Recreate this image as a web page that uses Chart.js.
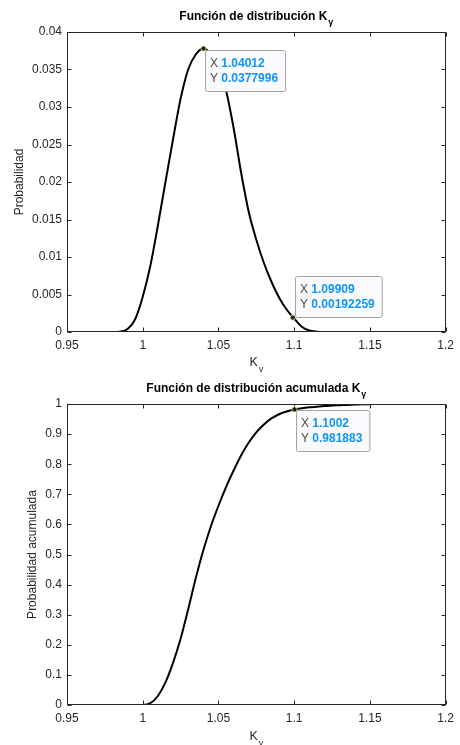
<!DOCTYPE html>
<html>
<head>
<meta charset="utf-8">
<script src="https://cdn.jsdelivr.net/npm/chart.js@4.4.0/dist/chart.umd.min.js"></script>
<style>
  body { margin: 0; background: #fff; }
  .panel { position: absolute; left: 0; width: 460px; }
  #top { top: 0; height: 372px; }
  #bottom { top: 372px; height: 373px; }
</style>
</head>
<body>
<div class="panel" id="top"><canvas id="pdfChart"></canvas></div>
<div class="panel" id="bottom"><canvas id="cdfChart"></canvas></div>
<script>
// Values
const kValues = [0.95, 0.955, 0.96, 0.965, 0.97, 0.975, 0.98, 0.985, 0.99, 0.995,
  1.0, 1.005, 1.01, 1.015, 1.02, 1.025, 1.03, 1.035, 1.04, 1.045,
  1.05, 1.055, 1.06, 1.065, 1.07, 1.075, 1.08, 1.085, 1.09, 1.095,
  1.1, 1.105, 1.11, 1.115, 1.12, 1.125, 1.13, 1.135, 1.14, 1.145,
  1.15, 1.155, 1.16, 1.165, 1.17, 1.175, 1.18, 1.185, 1.19, 1.195, 1.2];

const pdfValues = [0, 0, 0, 0, 0, 0, 0, 0.00005, 0.0004, 0.0017,
  0.0047, 0.0088, 0.0142, 0.0200, 0.0257, 0.0311, 0.0350, 0.0370, 0.0378, 0.0371,
  0.0352, 0.0322, 0.0272, 0.0212, 0.0160, 0.0123, 0.0092, 0.0067, 0.0046, 0.0030,
  0.0018, 0.0007, 0.0002, 0.00005, 0, 0, 0, 0, 0, 0,
  0, 0, 0, 0, 0, 0, 0, 0, 0, 0, 0];

const cdfValues = [0, 0, 0, 0, 0, 0, 0, 0, 0, 0,
  0, 0.006, 0.03, 0.075, 0.14, 0.22, 0.318, 0.421, 0.514, 0.594,
  0.662, 0.724, 0.779, 0.830, 0.872, 0.906, 0.932, 0.952, 0.966, 0.975,
  0.982, 0.986, 0.989, 0.991, 0.993, 0.995, 0.996, 0.997, 0.998, 0.999,
  0.9995, 1, 1, 1, 1, 1, 1, 1, 1, 1, 1];

const xTicks = [0.95, 1, 1.05, 1.1, 1.15, 1.2];
const xTickLabels = ["0.95", "1", "1.05", "1.1", "1.15", "1.2"];
const pdfTicks = [0, 0.005, 0.01, 0.015, 0.02, 0.025, 0.03, 0.035, 0.04];
const pdfTickLabels = ["0", "0.005", "0.01", "0.015", "0.02", "0.025", "0.03", "0.035", "0.04"];
const cdfTicks = [0, 0.1, 0.2, 0.3, 0.4, 0.5, 0.6, 0.7, 0.8, 0.9, 1];
const cdfTickLabels = ["0", "0.1", "0.2", "0.3", "0.4", "0.5", "0.6", "0.7", "0.8", "0.9", "1"];

// data tips shown on the curves
const pdfTipX = ["1.04012", "1.09909"];
const pdfTipY = ["0.0377996", "0.00192259"];
const cdfTipX = ["1.1002"];
const cdfTipY = ["0.981883"];

const FONT = "'Liberation Sans', Arial, Helvetica, sans-serif";

// MATLAB-like box, inside ticks, titles, labels and data tips
const matlabAxes = {
  id: "matlabAxes",
  afterDatasetsDraw(chart, args, opts) {
    const { ctx, chartArea: a, scales } = chart;
    const L = Math.round(a.left) + 0.5, R = Math.round(a.right) - 0.5;
    const T = Math.round(a.top) + 0.5, B = Math.round(a.bottom) - 0.5;
    ctx.save();
    ctx.strokeStyle = "#262626";
    ctx.lineWidth = 1;
    ctx.strokeRect(L, T, R - L, B - T);
    ctx.beginPath();
    xTicks.forEach(v => {
      const px = Math.round(scales.x.getPixelForValue(v)) + 0.5;
      ctx.moveTo(px, B); ctx.lineTo(px, B - 4);
      ctx.moveTo(px, T); ctx.lineTo(px, T + 4);
    });
    opts.yTicks.forEach(v => {
      const py = Math.round(scales.y.getPixelForValue(v)) + 0.5;
      ctx.moveTo(L, py); ctx.lineTo(L + 4, py);
      ctx.moveTo(R, py); ctx.lineTo(R - 4, py);
    });
    ctx.stroke();
    ctx.restore();
  },
  afterDraw(chart, args, opts) {
    const { ctx, chartArea: a, scales } = chart;
    const cx = (a.left + a.right) / 2;
    ctx.save();
    ctx.fillStyle = "#000";
    ctx.textBaseline = "alphabetic";

    // title with subscript gamma
    ctx.font = "bold 12px " + FONT;
    const tw = ctx.measureText(opts.title).width;
    ctx.font = "bold 9px " + FONT;
    const gw = ctx.measureText("γ").width;
    let x0 = cx - (tw + gw + 1) / 2;
    ctx.textAlign = "left";
    ctx.font = "bold 12px " + FONT;
    ctx.fillText(opts.title, x0, 20);
    ctx.font = "bold 9px " + FONT;
    ctx.fillText("γ", x0 + tw + 1, 25);

    // x label K with subscript gamma
    ctx.fillStyle = "#262626";
    ctx.font = "12.5px " + FONT;
    const kw = ctx.measureText("K").width;
    ctx.font = "9px " + FONT;
    const gw2 = ctx.measureText("γ").width;
    x0 = cx - (kw + gw2 + 1) / 2;
    ctx.font = "12.5px " + FONT;
    ctx.fillText("K", x0, opts.xLabelY);
    ctx.font = "9px " + FONT;
    ctx.fillText("γ", x0 + kw + 1, opts.xLabelY + 6);

    // y label
    ctx.save();
    ctx.translate(opts.yLabelX, (a.top + a.bottom) / 2);
    ctx.rotate(-Math.PI / 2);
    ctx.textAlign = "center";
    ctx.textBaseline = "middle";
    ctx.font = "12px " + FONT;
    ctx.fillText(opts.yLabel, 0, 0);
    ctx.restore();

    // data tips
    opts.tipX.forEach((xs, i) => {
      const ys = opts.tipY[i];
      const mx = scales.x.getPixelForValue(parseFloat(xs));
      const my = scales.y.getPixelForValue(parseFloat(ys));
      ctx.font = "12px " + FONT;
      const lx = ctx.measureText("X ").width;
      const ly = ctx.measureText("Y ").width;
      ctx.font = "bold 12px " + FONT;
      const w = Math.max(lx + ctx.measureText(xs).width, ly + ctx.measureText(ys).width) + 12;
      const h = 41;
      const left = Math.round(mx) + 2;
      const top = opts.tipPlace[i] === "below" ? Math.round(my) + 1 : Math.round(my) - h - 1;
      ctx.fillStyle = "#f9f9fe";
      ctx.strokeStyle = "#a3a3a3";
      ctx.lineWidth = 1;
      ctx.beginPath();
      ctx.roundRect(left + 0.5, top + 0.5, w, h, 2);
      ctx.fill();
      ctx.stroke();
      ctx.textAlign = "left";
      ctx.textBaseline = "middle";
      [["X ", xs, 14], ["Y ", ys, 29]].forEach(([lab, val, dy]) => {
        ctx.font = "12px " + FONT;
        ctx.fillStyle = "#4a4a4a";
        ctx.fillText(lab, left + 5, top + dy);
        const lw = ctx.measureText(lab).width;
        ctx.font = "bold 12px " + FONT;
        ctx.fillStyle = "#0f96f5";
        ctx.fillText(val, left + 5 + lw, top + dy);
      });
      // marker
      ctx.beginPath();
      ctx.arc(mx, my, 2.6, 0, Math.PI * 2);
      ctx.fillStyle = "#1e1e1e";
      ctx.fill();
      ctx.strokeStyle = "#f0f0a0";
      ctx.lineWidth = 0.8;
      ctx.stroke();
    });
    ctx.restore();
  }
};

function makeChart(id, values, yMax, yTicks, yTickLabels, extra) {
  const points = kValues.map((k, i) => ({ x: k, y: values[i] }));
  return new Chart(document.getElementById(id), {
    type: "line",
    data: {
      datasets: [{
        data: points,
        borderColor: "#000",
        borderWidth: 2,
        pointRadius: 0,
        fill: false,
        cubicInterpolationMode: "monotone"
      }]
    },
    options: {
      responsive: true,
      maintainAspectRatio: false,
      animation: false,
      events: [],
      layout: { padding: { top: 32, right: 9, left: 0, bottom: 0 } },
      scales: {
        x: {
          type: "linear",
          min: 0.95,
          max: 1.2,
          afterBuildTicks: s => { s.ticks = xTicks.map(v => ({ value: v })); },
          afterFit: s => { s.height = 40; },
          grid: { display: false, drawTicks: false },
          border: { display: false },
          ticks: {
            padding: 6,
            maxRotation: 0,
            color: "#262626",
            font: { family: FONT, size: 12 },
            callback: (v, i) => xTickLabels[i]
          }
        },
        y: {
          type: "linear",
          min: 0,
          max: yMax,
          afterBuildTicks: s => { s.ticks = yTicks.map(v => ({ value: v })); },
          afterFit: s => { s.width = 67; },
          grid: { display: false, drawTicks: false },
          border: { display: false },
          ticks: {
            padding: 5,
            color: "#262626",
            font: { family: FONT, size: 12 },
            callback: (v, i) => yTickLabels[i]
          }
        }
      },
      plugins: {
        legend: { display: false },
        tooltip: { enabled: false },
        matlabAxes: Object.assign({ yTicks: yTicks }, extra)
      }
    },
    plugins: [matlabAxes]
  });
}

makeChart("pdfChart", pdfValues, 0.04, pdfTicks, pdfTickLabels, {
  title: "Función de distribución K",
  yLabel: "Probabilidad",
  yLabelX: 20,
  xLabelY: 366,
  tipX: pdfTipX,
  tipY: pdfTipY,
  tipPlace: ["below", "above"]
});

makeChart("cdfChart", cdfValues, 1, cdfTicks, cdfTickLabels, {
  title: "Función de distribución acumulada K",
  yLabel: "Probabilidad acumulada",
  yLabelX: 33,
  xLabelY: 368,
  tipX: cdfTipX,
  tipY: cdfTipY,
  tipPlace: ["below"]
});
</script>
</body>
</html>
